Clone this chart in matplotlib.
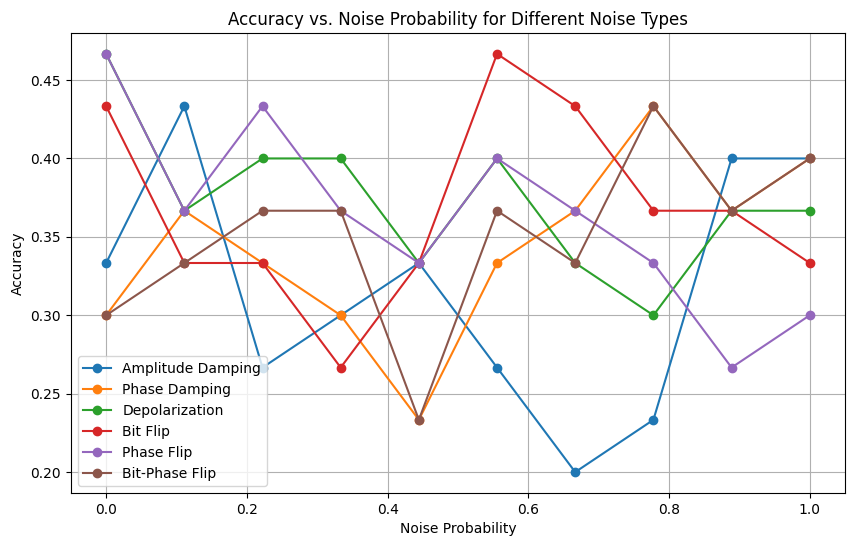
import numpy as np
import matplotlib.pyplot as plt

# noise probabilities and accuracies (30 test samples -> multiples of 1/30)
probs = np.linspace(0, 1, 10)

amplitude_damping = [10/30, 13/30, 8/30, 9/30, 10/30, 8/30, 6/30, 7/30, 12/30, 12/30]
phase_damping = [9/30, 11/30, 10/30, 9/30, 7/30, 10/30, 11/30, 13/30, 11/30, 12/30]
depolarization = [14/30, 11/30, 12/30, 12/30, 10/30, 12/30, 10/30, 9/30, 11/30, 11/30]
bit_flip = [13/30, 10/30, 10/30, 8/30, 10/30, 14/30, 13/30, 11/30, 11/30, 10/30]
phase_flip = [14/30, 11/30, 13/30, 11/30, 10/30, 12/30, 11/30, 10/30, 8/30, 9/30]
bit_phase_flip = [9/30, 10/30, 11/30, 11/30, 7/30, 11/30, 10/30, 13/30, 11/30, 12/30]

labels = ['Amplitude Damping', 'Phase Damping', 'Depolarization',
          'Bit Flip', 'Phase Flip', 'Bit-Phase Flip']
series = [amplitude_damping, phase_damping, depolarization,
          bit_flip, phase_flip, bit_phase_flip]

fig = plt.figure(figsize=(8.54, 5.47), dpi=100)
ax = fig.add_axes([0.0831, 0.0987, 0.9063, 0.841])
for vals, name in zip(series, labels):
    ax.plot(probs, vals, marker='o', label=name)

ax.set_title('Accuracy vs. Noise Probability for Different Noise Types')
ax.set_xlabel('Noise Probability')
ax.set_ylabel('Accuracy')
ax.legend(loc='lower left')
ax.grid(True)
fig.savefig('out.png', dpi=100)
